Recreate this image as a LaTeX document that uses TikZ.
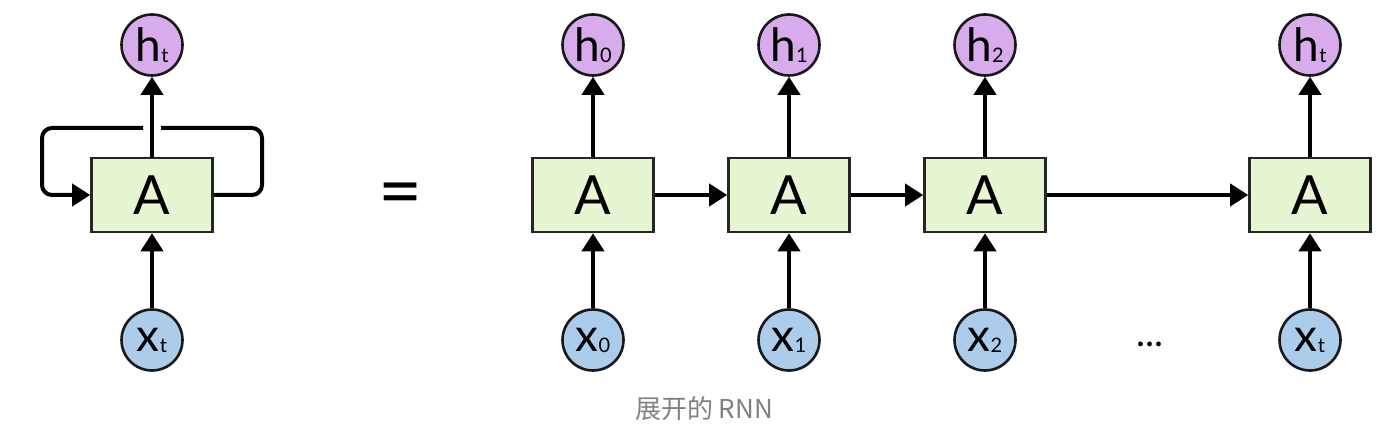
\documentclass[tikz,border=0pt]{standalone}
\usepackage{fontspec}
\setmainfont{Lato}
\newfontfamily\cjk{Noto Sans CJK SC}
\usetikzlibrary{arrows.meta}
\definecolor{boxgreen}{RGB}{230,245,210}
\definecolor{hpurple}{RGB}{216,172,236}
\definecolor{xblue}{RGB}{172,204,236}
\definecolor{capgray}{RGB}{128,128,128}
\tikzset{
  cell/.style={draw=black!85,line width=1.3pt,fill=boxgreen,minimum width=60.5pt,minimum height=37pt,inner sep=0pt,font=\fontsize{27}{27}\selectfont},
  hnode/.style={circle,draw=black!90,line width=1.3pt,fill=hpurple,minimum size=30.5pt,inner sep=0pt,font=\fontsize{23}{23}\selectfont},
  xnode/.style={circle,draw=black!90,line width=1.3pt,fill=xblue,minimum size=30.5pt,inner sep=0pt,font=\fontsize{23}{23}\selectfont},
  conn/.style={line width=2pt,-{Triangle[length=9pt,width=11pt]}},
  plain/.style={line width=2pt,rounded corners=5pt},
}
\newcommand{\lab}[2]{#1\raisebox{-0.5pt}{\fontsize{10}{10}\selectfont #2}}
\begin{document}
\begin{tikzpicture}[x=0.5pt,y=-0.5pt]
\useasboundingbox (0,0) rectangle (1398,438);
% left folded
\node[cell] (A) at (152,195) {A};
\node[hnode] (ht) at (152,45) {\lab{h}{t}};
\node[xnode] (xt) at (152,340) {\lab{x}{t}};
\draw[conn] (xt) -- (A);
\draw[conn] (A) -- (ht);
\coordinate (r1) at (262,195);
\coordinate (r2) at (262,128);
\coordinate (gr) at (161,128);
\coordinate (gl) at (143,128);
\coordinate (l1) at (42,128);
\coordinate (l2) at (42,195);
\draw[plain] (A.east) -- (r1) -- (r2) -- (gr);
\draw[plain,-{Triangle[length=9pt,width=11pt]}] (gl) -- (l1) -- (l2) -- (A.west);
\node[font=\fontsize{38}{38}\selectfont] (eq) at (401,200) {=};
% unrolled
\foreach \i/\xx/\s in {0/593/0,1/789/1,2/985/2,3/1310/t}{
  \node[cell] (A\i) at (\xx,195) {A};
  \node[hnode] (h\i) at (\xx,45) {\lab{h}{\s}};
  \node[xnode] (x\i) at (\xx,340) {\lab{x}{\s}};
  \draw[conn] (x\i) -- (A\i);
  \draw[conn] (A\i) -- (h\i);
}
\draw[conn] (A0) -- (A1);
\draw[conn] (A1) -- (A2);
\draw[conn] (A2) -- (A3);
\node[font=\fontsize{19}{19}\selectfont] (dots) at (1150,344) {...};
\node[text=capgray,font=\cjk\fontsize{13}{13}\selectfont] (cap) at (704,409) {展开的 RNN};
\end{tikzpicture}
\end{document}
